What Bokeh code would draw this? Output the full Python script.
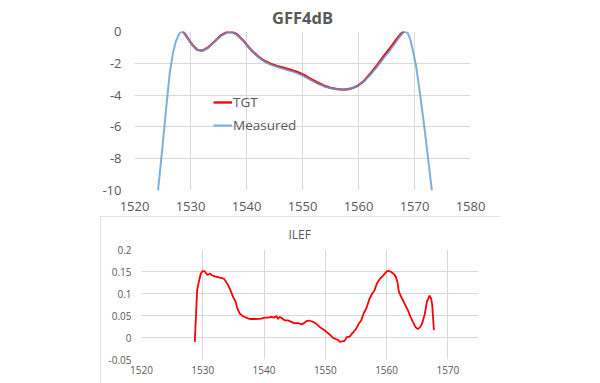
from bokeh.plotting import figure
from bokeh.models import Range1d, FixedTicker, Legend, LegendItem, Spacer
from bokeh.layouts import column, row
from bokeh.embed import file_html
from bokeh.resources import INLINE

# ---------------- data: GFF4dB (top chart) ----------------
meas_wl = [1524.2, 1524.9, 1525.6, 1526.3, 1526.9, 1527.4, 1527.9, 1528.2, 1528.5,
           1528.9, 1529.5, 1530.3, 1531.2, 1532.1, 1533.0, 1534.2, 1535.4, 1536.5, 1537.4,
           1538.3, 1539.5, 1540.7, 1541.9, 1543.1, 1544.3, 1545.5, 1546.7, 1547.9, 1549.0,
           1550.2, 1551.4, 1552.6, 1553.8, 1555.0, 1556.2, 1557.4, 1558.6, 1559.8, 1561.0,
           1562.1, 1563.3, 1564.5, 1565.7, 1566.9, 1567.8, 1568.3, 1568.8, 1569.3, 1569.8,
           1570.3, 1570.9, 1571.5, 1572.1, 1572.6, 1573.1]
meas_db = [-10.0, -7.6, -5.0, -2.6, -1.3, -0.6, -0.2, -0.05, 0.0,
           -0.1, -0.42, -0.83, -1.15, -1.21, -1.04, -0.67, -0.27, -0.06, -0.04,
           -0.2, -0.62, -1.13, -1.55, -1.87, -2.08, -2.23, -2.36, -2.48, -2.62,
           -2.8, -3.04, -3.26, -3.44, -3.56, -3.63, -3.65, -3.6, -3.44, -3.13,
           -2.72, -2.23, -1.68, -1.15, -0.55, -0.12, 0.0, -0.1, -0.55, -1.35,
           -2.2, -3.7, -5.3, -7.0, -8.5, -10.0]

tgt_wl = [1528.6, 1528.9, 1529.5, 1530.3, 1531.2, 1532.1, 1533.0, 1534.2, 1535.4, 1536.5,
          1537.4, 1538.3, 1539.5, 1540.7, 1541.9, 1543.1, 1544.3, 1545.5, 1546.7, 1547.9,
          1549.0, 1550.2, 1551.4, 1552.6, 1553.8, 1555.0, 1556.2, 1557.4, 1558.6, 1559.8,
          1561.0, 1562.1, 1563.3, 1564.5, 1565.7, 1566.9, 1567.8, 1568.2]
tgt_db = [0.0, -0.1, -0.42, -0.83, -1.15, -1.21, -1.04, -0.66, -0.25, -0.04,
          -0.02, -0.18, -0.6, -1.11, -1.52, -1.83, -2.03, -2.17, -2.29, -2.41,
          -2.54, -2.72, -2.97, -3.2, -3.4, -3.54, -3.62, -3.65, -3.6, -3.43,
          -3.1, -2.66, -2.13, -1.56, -1.02, -0.44, -0.06, 0.0]

top_xticks = [1520, 1530, 1540, 1550, 1560, 1570, 1580]
top_yticks = [-10, -8, -6, -4, -2, 0]
top_ylabels = ["-10", "-8", "-6", "-4", "-2", "0"]

# ---------------- data: ILEF (bottom chart) ----------------
ilef_wl = [1528.70, 1529.08, 1529.35, 1529.67, 1529.95, 1530.33, 1530.60, 1530.76, 1530.98, 1531.20,
           1531.41, 1531.96, 1532.77, 1533.42, 1533.75, 1534.13, 1534.40, 1534.67, 1534.95, 1535.38,
           1535.65, 1536.03, 1536.47, 1537.12, 1537.66, 1538.48, 1539.18, 1539.57, 1540.10, 1540.65,
           1541.20, 1541.58, 1542.00, 1542.28, 1542.55, 1542.80, 1543.37, 1543.90, 1544.46, 1545.00,
           1545.50, 1546.10, 1546.47, 1546.90, 1547.34, 1548.00, 1548.53, 1549.08, 1549.62, 1550.16,
           1550.71, 1551.25, 1551.79, 1552.07, 1552.34, 1552.77, 1553.15, 1553.53, 1553.97, 1554.24,
           1554.62, 1555.05, 1555.49, 1555.87, 1556.25, 1556.68, 1557.23, 1557.66, 1558.04, 1558.42,
           1558.86, 1559.40, 1559.95, 1560.22, 1560.76, 1561.14, 1561.47, 1561.74, 1562.00, 1562.40,
           1562.93, 1563.48, 1563.90, 1564.30, 1564.73, 1565.10, 1565.50, 1565.80, 1566.20, 1566.58,
           1567.00, 1567.28, 1567.45, 1567.72]
ilef_val = [-0.010, 0.108, 0.126, 0.145, 0.151, 0.150, 0.145, 0.142, 0.144, 0.145,
            0.142, 0.139, 0.136, 0.134, 0.128, 0.119, 0.111, 0.102, 0.092, 0.081,
            0.066, 0.0545, 0.049, 0.045, 0.042, 0.042, 0.0424, 0.043, 0.045, 0.045,
            0.047, 0.045, 0.049, 0.042, 0.047, 0.045, 0.039, 0.039, 0.0356, 0.032,
            0.033, 0.030, 0.032, 0.037, 0.0386, 0.0356, 0.031, 0.024, 0.019, 0.013,
            0.007, -0.001, -0.004, -0.005, -0.0098, -0.009, -0.0076, 0.0015, 0.002, 0.007,
            0.013, 0.020, 0.032, 0.039, 0.0545, 0.066, 0.0886, 0.100, 0.1076, 0.1227,
            0.1326, 0.140, 0.149, 0.1515, 0.149, 0.145, 0.139, 0.128, 0.104, 0.092,
            0.077, 0.062, 0.047, 0.0356, 0.0235, 0.019, 0.024, 0.032, 0.051, 0.081,
            0.095, 0.0886, 0.0735, 0.0167]

bot_xticks = [1520, 1530, 1540, 1550, 1560, 1570]
bot_yticks = [-0.05, 0.0, 0.05, 0.1, 0.15, 0.2]
bot_ylabels = ["-0.05", "0", "0.05", "0.1", "0.15", "0.2"]

FONT = "Open Sans"
TXT = "#595959"
GRID = "#d9d9d9"


def style_axes(p, xticks, yticks, ylabels, size, xstand, ystand):
    p.xaxis.ticker = FixedTicker(ticks=xticks)
    p.yaxis.ticker = FixedTicker(ticks=yticks)
    p.yaxis.major_label_overrides = {t: l for t, l in zip(yticks, ylabels)}
    p.xaxis.major_label_overrides = {t: str(t) for t in xticks}
    for ax in (p.xaxis, p.yaxis):
        ax.axis_line_color = None
        ax.major_tick_line_color = None
        ax.minor_tick_line_color = None
        ax.major_tick_out = 0
        ax.major_tick_in = 0
        ax.major_label_text_font = FONT
        ax.major_label_text_font_size = size
        ax.major_label_text_color = TXT
    p.xaxis.major_label_standoff = xstand
    p.yaxis.major_label_standoff = ystand
    p.xgrid.ticker = FixedTicker(ticks=xticks)
    p.ygrid.ticker = FixedTicker(ticks=yticks)
    p.grid.grid_line_color = GRID
    p.grid.grid_line_width = 1
    p.outline_line_color = None


# ---------------- top figure ----------------
p1 = figure(width=600, height=216, output_backend="svg", toolbar_location=None,
            title="GFF4dB",
            x_range=Range1d(1520, 1580), y_range=Range1d(-10, 0),
            min_border_left=134, min_border_right=130, min_border_top=30, min_border_bottom=26)
style_axes(p1, top_xticks, top_yticks, top_ylabels, "13px", 11, 13)
p1.title.align = "center"
p1.title.text_font = FONT
p1.title.text_font_size = "16.5px"
p1.title.text_font_style = "bold"
p1.title.text_color = TXT
p1.title.offset = -2
p1.title.standoff = 6

r_tgt = p1.line(tgt_wl, tgt_db, line_color="#ff0000", line_width=2.3)
r_meas = p1.line(meas_wl, meas_db, line_color="#5b9bd5", line_width=2, line_alpha=0.8)

leg = Legend(items=[LegendItem(label="TGT", renderers=[r_tgt]),
                    LegendItem(label="Measured", renderers=[r_meas])],
             location=(79, 55), orientation="vertical")
leg.border_line_color = None
leg.background_fill_alpha = 0
leg.padding = 0
leg.margin = 0
leg.spacing = 3
leg.glyph_width = 19
leg.glyph_height = 20
leg.label_standoff = 1
leg.label_text_font = FONT
leg.label_text_font_size = "13.5px"
leg.label_text_color = TXT
p1.add_layout(leg)

# ---------------- bottom figure ----------------
p2 = figure(width=400, height=167, output_backend="svg", toolbar_location=None,
            title="ILEF",
            x_range=Range1d(1520, 1575), y_range=Range1d(-0.05, 0.2),
            min_border_left=41, min_border_right=22, min_border_top=33, min_border_bottom=24,
            styles={"outline": "1px solid #d9d9d9", "outline-offset": "-1px"})
style_axes(p2, bot_xticks, bot_yticks, bot_ylabels, "10px", 6, 10)
p2.title.align = "left"
p2.title.text_font = FONT
p2.title.text_font_size = "12px"
p2.title.text_font_style = "normal"
p2.title.text_color = TXT
p2.title.offset = 147
p2.title.standoff = 13

p2.line(ilef_wl, ilef_val, line_color="#ff0000", line_width=1.8)

layout = column(p1, row(Spacer(width=100, height=167), p2))
open("out.html", "w").write(file_html(layout, INLINE))
